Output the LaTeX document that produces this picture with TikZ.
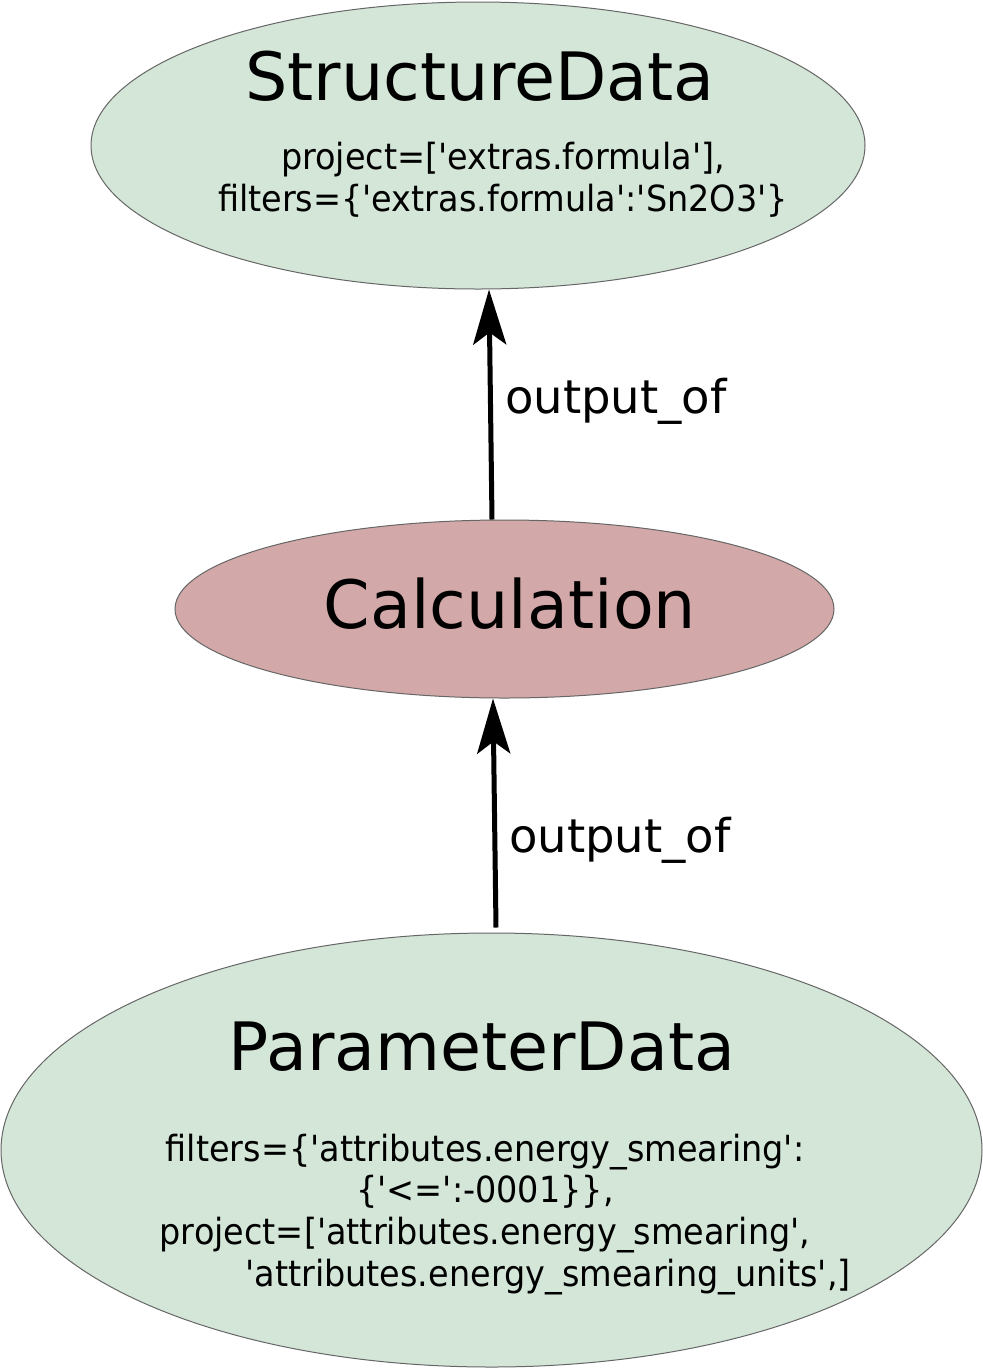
\documentclass[tikz,border=0pt]{standalone}
\usepackage{fontspec}
\setmainfont{DejaVu Sans}
\newfontfamily\condfont{DejaVu Sans}[FakeStretch=0.93]
\usetikzlibrary{shapes.geometric,arrows.meta,calc}
\definecolor{datagreen}{HTML}{D3E6D7}
\definecolor{calcpink}{HTML}{D3A8A8}
\definecolor{edgegray}{HTML}{666666}
\begin{document}
\begin{tikzpicture}[x=1pt,y=1pt,
  blob/.style={ellipse,draw=edgegray,line width=1pt,inner sep=0pt},
  title/.style={anchor=base,inner sep=0pt,font=\fontsize{66.7}{80}\selectfont},
  small/.style={anchor=base,inner sep=0pt,font=\condfont\fontsize{36}{42}\selectfont},
  edgelbl/.style={anchor=base west,inner sep=0pt,font=\fontsize{46.5}{54}\selectfont},
  link/.style={line width=5pt,-{Stealth[length=55pt,width=33pt,inset=12pt]}}]
\useasboundingbox (0,0) rectangle (983,-1369);
\node[blob,fill=datagreen,minimum width=774pt,minimum height=287pt] (struct) at (478,-145.5) {};
\node[blob,fill=calcpink,minimum width=659pt,minimum height=178pt] (calc) at (504.5,-609) {};
\node[blob,fill=datagreen,minimum width=981pt,minimum height=434pt] (param) at (491.5,-1150) {};
\node[title] (structT) at (480,-100) {StructureData};
\node[small] (structL1) at (503,-169) {project=['extras.formula'],};
\node[small] (structL2) at (503,-211) {filters=\{'extras.formula':'Sn2O3'\}};
\node[title] (calcT) at (510,-628) {Calculation};
\node[title] (paramT) at (482,-1070) {ParameterData};
\node[small] (paramL1) at (485,-1161) {filters=\{'attributes.energy\_smearing':};
\node[small] (paramL2) at (485,-1202) {\{'<=':-0001\}\},};
\node[small] (paramL3) at (485,-1244) {project=['attributes.energy\_smearing',};
\node[small] (paramL4) at (548,-1286) {'attributes.energy\_smearing\_units',]};
\draw[link] ($(calc.north)+(-12.5,0)$) -- ($(struct.south)+(11,0)$);
\draw[link] ($(param.north)+(4.5,5)$) -- ($(calc.south)+(-11.5,0)$);
\node[edgelbl] (lbl1) at (505,-413) {output\_of};
\node[edgelbl] (lbl2) at (509,-852) {output\_of};
\end{tikzpicture}
\end{document}
